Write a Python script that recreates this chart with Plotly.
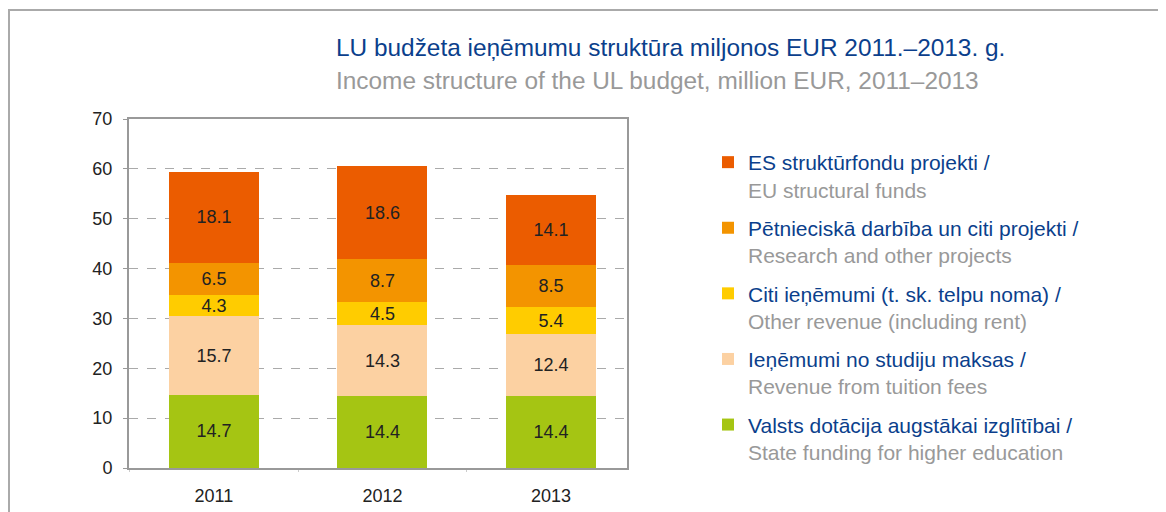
import plotly.graph_objects as go

years = ["2011", "2012", "2013"]
state_funding = [14.7, 14.4, 14.4]
tuition = [15.7, 14.3, 12.4]
other_revenue = [4.3, 4.5, 5.4]
research = [6.5, 8.7, 8.5]
eu_funds = [18.1, 18.6, 14.1]

names_lv = ["Valsts dotācija augstākai izglītībai /",
            "Ieņēmumi no studiju maksas /",
            "Citi ieņēmumi (t. sk. telpu noma) /",
            "Pētnieciskā darbība un citi projekti /",
            "ES struktūrfondu projekti /"]
names_en = ["State funding for higher education",
            "Revenue from tuition fees",
            "Other revenue (including rent)",
            "Research and other projects",
            "EU structural funds"]
series = [state_funding, tuition, other_revenue, research, eu_funds]
colors = ["#a5c513", "#fcd1a2", "#ffcc00", "#f39400", "#eb5c00"]

BLUE = "#0b3f8c"
GRAY = "#999999"
FONT = "Liberation Sans, Arial, sans-serif"

fig = go.Figure()
n = len(series)
for i, (vals, lv, en, col) in enumerate(zip(series, names_lv, names_en, colors)):
    fig.add_trace(go.Bar(
        x=years, y=vals,
        name=f"<span style='color:{BLUE}'>{lv}</span><br><span style='color:{GRAY}'>{en}</span>",
        marker=dict(color=col, line=dict(width=0)),
        text=[f"{v:.1f}" for v in vals],
        textposition="inside", insidetextanchor="middle",
        constraintext="none",
        textfont=dict(size=18, color="#222222", family=FONT),
        legendgroup=f"g{n - i}",
        legendrank=n - i,
        hoverinfo="skip",
    ))

# page offset (browser body margin)
OFF = 8
W, H = 1166 - OFF, 512 - OFF
L, R, T, B = 129 - OFF, 627 - OFF, 119 - OFF, 468 - OFF

def px(x):
    return (x - OFF - L) / (R - L)

def py(y):
    return (B - (y - OFF)) / (B - T)

fig.update_layout(
    barmode="stack",
    bargap=0.466,
    width=W, height=H,
    margin=dict(l=L, r=W - R, t=T, b=H - B, pad=0, autoexpand=False),
    paper_bgcolor="white", plot_bgcolor="white",
    font=dict(family=FONT, size=18, color="#222222"),
    showlegend=True,
    legend=dict(
        x=px(708), y=py(142), xanchor="left", yanchor="top",
        traceorder="grouped", tracegroupgap=8, valign="top",
        font=dict(size=21, family=FONT), bgcolor="rgba(0,0,0,0)",
        itemclick=False, itemdoubleclick=False,
    ),
    xaxis=dict(
        range=[-0.504, 2.451],
        showgrid=False, showline=True, linecolor="#999999", linewidth=2,
        mirror=True, ticks="outside", tickson="boundaries", ticklen=2,
        tickcolor="#cccccc", tickfont=dict(size=18, color="#222222"),
        ticklabelstandoff=10, automargin=False,
    ),
    yaxis=dict(
        range=[0, 70], dtick=10, showgrid=True, gridcolor="#aaaaaa",
        griddash="dash", gridwidth=1, showline=True, linecolor="#999999",
        linewidth=2, mirror=True, ticks="outside", ticklen=4,
        tickcolor="#999999", tickfont=dict(size=18, color="#222222"),
        zeroline=False, ticklabelstandoff=7, automargin=False,
    ),
    annotations=[
        dict(text="LU budžeta ieņēmumu struktūra miljonos EUR 2011.–2013. g.",
             x=px(334), y=py(48), xref="paper", yref="paper",
             xanchor="left", yanchor="middle", showarrow=False,
             font=dict(size=24.4, color=BLUE, family=FONT)),
        dict(text="Income structure of the UL budget, million EUR, 2011–2013",
             x=px(334), y=py(80), xref="paper", yref="paper",
             xanchor="left", yanchor="middle", showarrow=False,
             font=dict(size=24.4, color=GRAY, family=FONT)),
    ],
    shapes=[
        dict(type="line", xref="paper", yref="paper",
             x0=px(8), x1=px(1170), y0=py(10), y1=py(10),
             line=dict(color="#aaaaaa", width=2)),
        dict(type="line", xref="paper", yref="paper",
             x0=px(9), x1=px(9), y0=py(10), y1=py(515),
             line=dict(color="#aaaaaa", width=2)),
    ],
)
try:
    fig.update_layout(legend_maxheight=480)
except Exception:
    pass

fig.write_html("out.html")
